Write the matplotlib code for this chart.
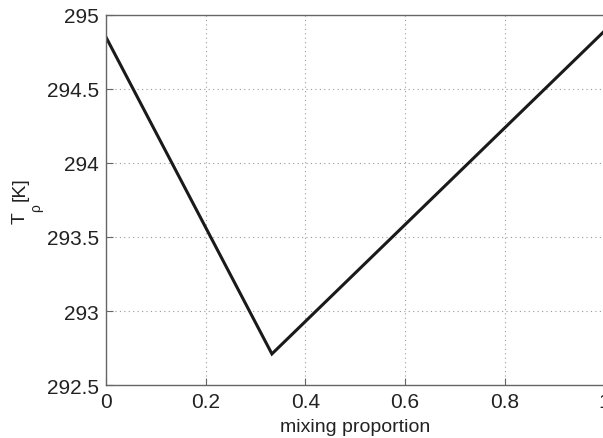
import matplotlib
matplotlib.use("Agg")
import matplotlib.pyplot as plt

# Mixing proportion vs. density temperature
mix = [0.0, 0.333, 1.0]
temp = [294.85, 292.71, 294.89]

xticks = [0, 0.2, 0.4, 0.6, 0.8, 1]
xticklabels = ["0", "0.2", "0.4", "0.6", "0.8", "1"]
yticks = [292.5, 293, 293.5, 294, 294.5, 295]
yticklabels = ["292.5", "293", "293.5", "294", "294.5", "295"]

plt.rcParams["font.family"] = ["Liberation Sans", "DejaVu Sans"]

W, H = 603, 439
fig = plt.figure(figsize=(W / 100, H / 100), dpi=100)
ax = fig.add_axes([0.1758, 0.1207, 0.8262, 0.8429])

ax.plot(mix, temp, color="#1a1a1a", linewidth=2.2, solid_joinstyle="miter")

ax.set_xlim(0, 1)
ax.set_ylim(292.5, 295)
ax.set_xticks(xticks)
ax.set_xticklabels(xticklabels)
ax.set_yticks(yticks)
ax.set_yticklabels(yticklabels)

ax.grid(True, linestyle=(0, (1, 3)), color="#999999", linewidth=0.8)
ax.tick_params(direction="in", length=5, color="#666666", labelsize=15,
               labelcolor="#222222", pad=5)
for s in ax.spines.values():
    s.set_color("#666666")
    s.set_linewidth(1.0)

ax.set_xlabel("mixing proportion", fontsize=14, color="#222222", labelpad=5)

# Y label "T_rho [K]" built from pieces, with a deep subscript
def px(x, y):
    return x / W, 1 - y / H

lab = dict(rotation=90, ha="center", va="center", color="#222222")
fig.text(*px(20, 218), "T", fontsize=14, **lab)
fig.text(*px(36, 208), "ρ", fontsize=10, **lab)
fig.text(*px(20, 189), "[K]", fontsize=14, **lab)

fig.savefig("out.png", dpi=100)
